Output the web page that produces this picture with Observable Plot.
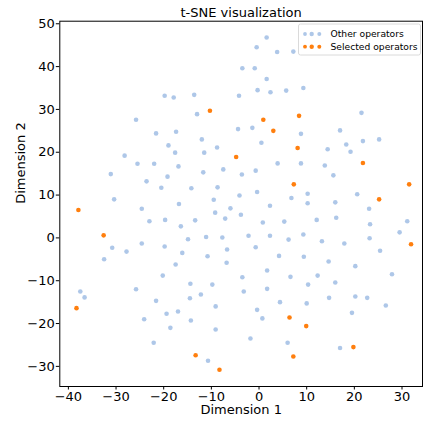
<!DOCTYPE html>
<html>
<head>
<meta charset="utf-8">
<script src="https://cdn.jsdelivr.net/npm/d3@7"></script>
<script src="https://cdn.jsdelivr.net/npm/@observablehq/plot@0.6"></script>
<style>
  html, body { margin: 0; padding: 0; background: #fff; }
  #chart { position: relative; width: 425px; height: 421px; }
</style>
</head>
<body>
<div id="chart"></div>
<script>
const otherX = [-19.8,-17.9,-13.6,-13.0,-25.8,-21.6,-17.4,-19.0,-12.0,-17.6,-11.5,-8.8,-28.2,-25.5,-22.0,-16.9,-7.5,-11.7,-31.1,-19.2,-23.6,-20.5,-14.2,-8.7,-30.4,-9.5,
  1.6,-0.5,3.8,7.2,-3.5,-0.9,1.6,-4.2,-0.3,2.4,5.7,9.3,21.5,-4.4,-1.4,8.8,17.0,0.5,14.4,18.3,21.8,25.2,19.2,3.9,8.8,13.8,-3.6,-0.7,15.6,-4.1,-0.4,6.8,10.2,20.6,
  -24.6,-16.8,-6.0,-9.2,-23.0,-19.7,-16.4,-13.4,-7.1,-14.9,-11.1,-7.7,-30.8,-27.8,-24.6,-19.8,-16.1,-6.7,-32.5,-17.5,-10.8,-6.8,-20.2,-14.4,-9.8,-37.5,-36.6,-25.8,-14.5,-12.2,-21.6,-9.1,-24.1,-19.4,-17.0,-14.3,-18.6,-9.1,-22.1,-10.7,
  10.2,16.0,2.3,-3.8,23.1,0.8,5.3,12.1,16.2,23.3,31.1,-2.2,2.3,6.2,9.3,13.2,17.9,23.2,29.5,-0.7,25.4,4.2,9.4,14.6,20.2,27.9,-3.5,1.7,6.6,12.3,10.3,16.0,-3.2,1.7,4.4,10.0,14.7,20.2,22.7,26.6,-0.4,0.7,19.5,-1.8,6.0,17.0];
const otherY = [33.2,32.8,33.4,28.9,27.6,24.4,24.8,21.6,23.0,19.9,19.9,21.1,19.2,17.3,17.3,16.7,16.0,15.3,14.9,14.3,13.2,11.7,11.6,11.8,9.0,8.9,
  46.8,44.5,43.4,43.5,39.6,39.6,37.1,33.2,34.5,34.0,34.4,35.0,29.2,25.4,25.7,24.3,25.1,22.2,20.7,21.8,22.6,23.0,20.1,17.4,17.4,16.9,14.8,15.7,14.6,9.9,10.7,9.3,10.3,10.2,
  6.8,7.9,6.9,5.9,3.9,4.2,2.7,4.1,4.5,-0.3,0.2,0.1,-2.3,-3.2,-1.3,-2.0,-3.5,-2.7,-5.0,-6.2,-4.3,-5.8,-8.8,-10.7,-10.9,-12.5,-13.9,-12.0,-14.1,-13.2,-14.7,-16.0,-19.0,-17.7,-17.2,-19.3,-21.0,-21.4,-24.5,-28.7,
  8.1,8.3,7.5,5.4,6.8,3.6,3.8,4.2,4.7,3.2,3.9,0.5,0.5,-0.4,0.8,-0.8,-1.3,-0.1,1.3,-2.2,-3.0,-4.2,-4.4,-5.5,-6.6,-8.5,-9.2,-7.6,-9.1,-8.8,-10.9,-10.4,-12.5,-11.9,-15.0,-15.3,-14.0,-13.7,-14.0,-15.8,-16.8,-18.8,-17.5,-23.5,-24.5,-25.7];
const selectedX = [-10.3,0.9,8.4,3.0,8.1,-4.8,21.8,7.3,31.5,25.2,-37.9,-32.6,31.9,-38.3,6.4,9.9,19.8,-13.3,7.2,-8.3];
const selectedY = [29.7,27.6,28.5,25.0,21.0,18.9,17.5,12.5,12.5,9.0,6.5,0.6,-1.5,-16.4,-18.6,-20.6,-25.5,-27.4,-27.7,-30.8];
const seriesNames = ["Other operators", "Selected operators"];
const seriesColors = ["#aec7e8", "#ff7f0e"];
const xTicks = [-40, -30, -20, -10, 0, 10, 20, 30];
const yTicks = [-30, -20, -10, 0, 10, 20, 30, 40, 50];
const titleText = "t-SNE visualization";
const xLabel = "Dimension 1";
const yLabel = "Dimension 2";

const other = otherX.map((x, i) => ({x, y: otherY[i], group: seriesNames[0]}));
const selected = selectedX.map((x, i) => ({x, y: selectedY[i], group: seriesNames[1]}));
const FONT = "DejaVu Sans, sans-serif";

const plot = Plot.plot({
  width: 425,
  height: 421,
  marginLeft: 59.3,
  marginRight: 3,
  marginTop: 20.7,
  marginBottom: 35,
  style: {fontFamily: FONT, fontSize: "13px", color: "#000", background: "#fff"},
  x: {domain: [-41.8, 34.3], label: null},
  y: {domain: [-34.7, 50.6], label: null},
  color: {domain: seriesNames, range: seriesColors},
  marks: [
    Plot.dot(other, {x: "x", y: "y", fill: "group", r: 2.3, stroke: null}),
    Plot.dot(selected, {x: "x", y: "y", fill: "group", r: 2.3, stroke: null}),
    Plot.axisX({ticks: xTicks, tickSize: 3.5, tickPadding: 1.5, fontSize: 13, label: null, stroke: "#000", strokeWidth: 1}),
    Plot.axisY({ticks: yTicks, tickSize: 3.5, tickPadding: 1.5, fontSize: 13, label: null, stroke: "#000", strokeWidth: 1}),
    Plot.frame({stroke: "#000", strokeWidth: 1}),
    Plot.text([titleText], {frameAnchor: "top", dy: -8.2, lineAnchor: "middle", fontSize: 13, fill: "#000"}),
    Plot.text([xLabel], {frameAnchor: "bottom", dy: 23.5, lineAnchor: "middle", fontSize: 13, fill: "#000"}),
    Plot.text([yLabel], {frameAnchor: "left", dx: -38.5, rotate: -90, lineAnchor: "middle", fontSize: 13, fill: "#000"})
  ]
});

// Legend inside the plot, upper right (pixel-positioned)
const svg = d3.select(plot);
const lg = svg.append("g").attr("font-family", FONT).attr("font-size", 9.2).attr("text-anchor", "start");
lg.append("rect").attr("x", 298.5).attr("y", 24).attr("width", 122).attr("height", 31)
  .attr("rx", 2).attr("fill", "#fff").attr("fill-opacity", 0.8).attr("stroke", "#d0d0d0").attr("stroke-width", 0.8);
seriesNames.forEach((name, i) => {
  const cy = 34 + i * 12.7;
  [305, 311.7, 319.3].forEach((cx, j) => {
    lg.append("circle").attr("cx", cx).attr("cy", cy).attr("r", [1.9, 2.2, 2.0][j]).attr("fill", seriesColors[i]);
  });
  lg.append("text").attr("x", 330.5).attr("y", cy).attr("dy", "0.35em").attr("fill", "#000").text(name);
});

document.getElementById("chart").appendChild(plot);
</script>
</body>
</html>
